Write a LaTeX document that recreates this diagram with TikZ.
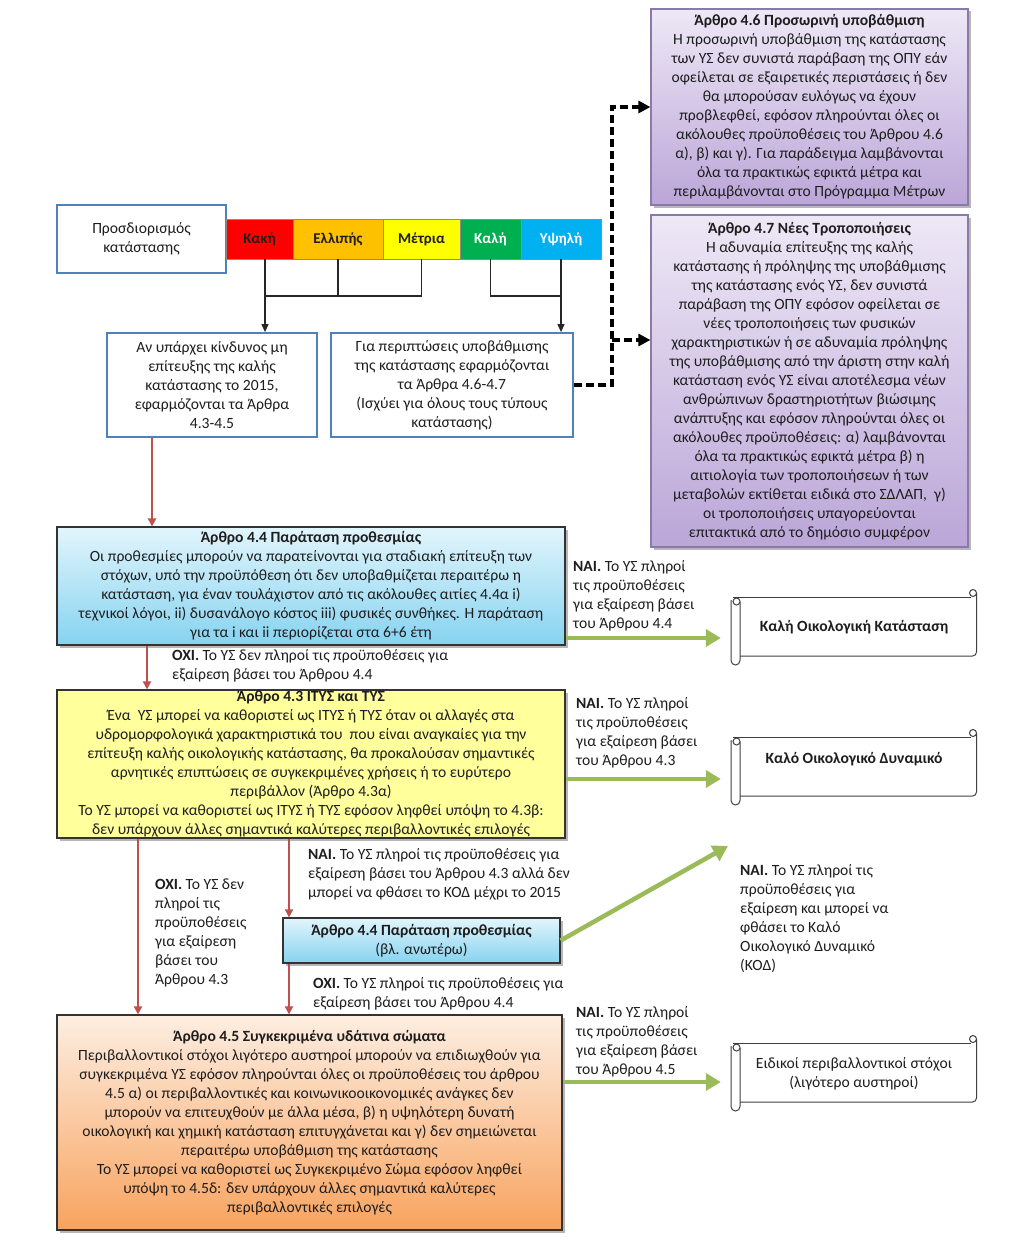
\documentclass[tikz,border=0pt]{standalone}
\usepackage{fontspec}
\setmainfont{Carlito}
\usetikzlibrary{arrows.meta,shadows,calc}
\definecolor{txt}{HTML}{1E1E1E}
\definecolor{purT}{HTML}{EEE8F6}
\definecolor{purB}{HTML}{BBA6D8}
\definecolor{purD}{HTML}{8A7AA8}
\definecolor{bluT}{HTML}{E2F5FC}
\definecolor{bluB}{HTML}{86D3F0}
\definecolor{yel}{HTML}{FFFF9C}
\definecolor{orT}{HTML}{FDEEE2}
\definecolor{orB}{HTML}{F8A35E}
\definecolor{bdr}{HTML}{4F81BD}
\definecolor{redA}{HTML}{C0504D}
\definecolor{grnA}{HTML}{9BBB59}
\definecolor{cRed}{HTML}{FF0000}
\definecolor{cOr}{HTML}{FFC000}
\definecolor{cYe}{HTML}{FFFF00}
\definecolor{cGr}{HTML}{00B050}
\definecolor{cCy}{HTML}{00B0F0}
\newcommand\myscroll[1]{%
  \begin{scope}[shift={(0,#1)}, line width=1pt, draw=black!75]
    \draw (733,0) -- (971,0);
    \draw (973,-4) circle[radius=3.5pt];
    \draw[rounded corners=4pt] (976.5,-4) -- (976.5,59) -- (740,59);
    \draw (736.5,4.5) circle[radius=3.5pt];
    \draw[rounded corners=4.5pt] (731,3) -- (731,68) -- (740,68) -- (740,5);
  \end{scope}}
\begin{document}
\begin{tikzpicture}[x=1pt,y=-1pt,
  every node/.style={font=\fontsize{15.6}{19}\selectfont, text=txt, inner sep=0pt},
  box/.style={draw, align=center, line width=1.2pt},
  shad/.style={drop shadow={shadow xshift=2.5pt,shadow yshift=-2.5pt,opacity=0.4,fill=black!70}},
  purbox/.style={box, shad, draw=purD, top color=purT, bottom color=purB, minimum width=317pt},
  blubox/.style={box, shad, draw=black!80, top color=bluT, bottom color=bluB},
  bluebord/.style={box, draw=bdr, line width=1.8pt, fill=white},
  cell/.style={draw=black!45, line width=0.8pt, minimum height=40pt, font=\fontsize{15}{17}\selectfont\bfseries},
  scrolltxt/.style={minimum width=246pt, minimum height=59pt, align=center},
  tline/.style={line width=1.1pt, draw=black!85},
  tarrow/.style={tline, -{Triangle[length=8pt,width=7pt]}},
  dline/.style={line width=3.5pt, dash pattern=on 8pt off 4pt, -{Triangle[length=12pt,width=12pt]}},
  rarrow/.style={line width=2pt, draw=redA, -{Triangle[length=8pt,width=8pt]}},
  garrow/.style={line width=4.5pt, draw=grnA, -{Triangle[length=15pt,width=17pt]}},
  lbl/.style={align=left, anchor=north west}
]
\fill[white] (0,0) rectangle (1024,1252);
\useasboundingbox (0,0) rectangle (1024,1252);

% top right purple boxes
\node[purbox, minimum height=196pt] (b46) at (809.5,107) {\textbf{Άρθρο 4.6 Προσωρινή υποβάθμιση}\\
Η προσωρινή υποβάθμιση της κατάστασης\\
των ΥΣ δεν συνιστά παράβαση της ΟΠΥ εάν\\
οφείλεται σε εξαιρετικές περιστάσεις ή δεν\\
θα μπορούσαν ευλόγως να έχουν\\
προβλεφθεί, εφόσον πληρούνται όλες οι\\
ακόλουθες προϋποθέσεις του Άρθρου 4.6\\
α), β) και γ). Για παράδειγμα λαμβάνονται\\
όλα τα πρακτικώς εφικτά μέτρα και\\
περιλαμβάνονται στο Πρόγραμμα Μέτρων};

\node[purbox, minimum height=332pt] (b47) at (809.5,381) {\textbf{Άρθρο 4.7 Νέες Τροποποιήσεις}\\
Η αδυναμία επίτευξης της καλής\\
κατάστασης ή πρόληψης της υποβάθμισης\\
της κατάστασης ενός ΥΣ, δεν συνιστά\\
παράβαση της ΟΠΥ εφόσον οφείλεται σε\\
νέες τροποποιήσεις των φυσικών\\
χαρακτηριστικών ή σε αδυναμία πρόληψης\\
της υποβάθμισης από την άριστη στην καλή\\
κατάσταση ενός ΥΣ είναι αποτέλεσμα νέων\\
ανθρώπινων δραστηριοτήτων βιώσιμης\\
ανάπτυξης και εφόσον πληρούνται όλες οι\\
ακόλουθες προϋποθέσεις: α) λαμβάνονται\\
όλα τα πρακτικώς εφικτά μέτρα β) η\\
αιτιολογία των τροποποιήσεων ή των\\
μεταβολών εκτίθεται ειδικά στο ΣΔΛΑΠ,~~γ)\\
οι τροποποιήσεις υπαγορεύονται\\
επιτακτικά από το δημόσιο συμφέρον};

% status determination
\node[bluebord, minimum width=169pt, minimum height=68pt] (bP) at (141.5,239) {Προσδιορισμός\\κατάστασης};
\node[cell, fill=cRed, minimum width=67pt] (c1) at (259.5,239) {Κακή};
\node[cell, fill=cOr, minimum width=90pt] (c2) at (338,239) {Ελλιπής};
\node[cell, fill=cYe, minimum width=77pt] (c3) at (421.5,239) {Μέτρια};
\node[cell, fill=cGr, minimum width=61pt, text=white] (c4) at (490.5,239) {Καλή};
\node[cell, fill=cCy, minimum width=80pt, text=white] (c5) at (561,239) {Υψηλή};

\node[bluebord, minimum width=210pt, minimum height=104pt] (bA) at (212,385) {Αν υπάρχει κίνδυνος μη\\επίτευξης της καλής\\κατάστασης το 2015,\\εφαρμόζονται τα Άρθρα\\4.3-4.5};
\node[bluebord, minimum width=242pt, minimum height=104pt] (bB) at (452,385) {Για περιπτώσεις υποβάθμισης\\της κατάστασης εφαρμόζονται\\τα Άρθρα 4.6-4.7\\(Ισχύει για όλους τους τύπους\\κατάστασης)};

% tree connectors
\coordinate (j1) at (265,296);
\coordinate (j2) at (561,296);
\draw[tline] (c1.south -| j1) -- (j1);
\draw[tline] (c2.south) |- (j1);
\draw[tline] (c3.south) |- (j1);
\draw[tarrow] (j1) -- (bA.north -| j1);
\draw[tline] (c4.south) |- (j2);
\draw[tarrow] (c5.south) -- (bB.north -| c5.south);

% dashed connectors
\coordinate (dk) at (612,385);
\draw[dline] (bB.east) -- (dk) |- (b46.west);
\draw[dline] (dk |- 0,340) -- (b47.west |- 0,340);

% main column
\node[blubox, minimum width=508pt, minimum height=118pt] (b44) at (311,586) {\textbf{Άρθρο 4.4 Παράταση προθεσμίας}\\
Οι προθεσμίες μπορούν να παρατείνονται για σταδιακή επίτευξη των\\
στόχων, υπό την προϋπόθεση ότι δεν υποβαθμίζεται περαιτέρω η\\
κατάσταση, για έναν τουλάχιστον από τις ακόλουθες αιτίες 4.4α i)\\
τεχνικοί λόγοι, ii) δυσανάλογο κόστος iii) φυσικές συνθήκες. Η παράταση\\
για τα i και ii περιορίζεται στα 6+6 έτη};

\node[box, shad, draw=black!80, fill=yel, minimum width=508pt, minimum height=148pt] (b43) at (311,764) {\textbf{Άρθρο 4.3 ΙΤΥΣ και ΤΥΣ}\\
Ένα~~ΥΣ μπορεί να καθοριστεί ως ΙΤΥΣ ή ΤΥΣ όταν οι αλλαγές στα\\
υδρομορφολογικά χαρακτηριστικά του~~που είναι αναγκαίες για την\\
επίτευξη καλής οικολογικής κατάστασης, θα προκαλούσαν σημαντικές\\
αρνητικές επιπτώσεις σε συγκεκριμένες χρήσεις ή το ευρύτερο\\
περιβάλλον (Άρθρο 4.3α)\\
Το ΥΣ μπορεί να καθοριστεί ως ΙΤΥΣ ή ΤΥΣ εφόσον ληφθεί υπόψη το 4.3β:\\
δεν υπάρχουν άλλες σημαντικά καλύτερες περιβαλλοντικές επιλογές};

\node[blubox, minimum width=277pt, minimum height=45pt] (bs) at (421.5,940.5) {\textbf{Άρθρο 4.4 Παράταση προθεσμίας}\\(βλ. ανωτέρω)};

\node[box, shad, draw=black!80, top color=orT, bottom color=orB, minimum width=505pt, minimum height=215pt] (b45) at (309.5,1122.5) {\textbf{Άρθρο 4.5 Συγκεκριμένα υδάτινα σώματα}\\
Περιβαλλοντικοί στόχοι λιγότερο αυστηροί μπορούν να επιδιωχθούν για\\
συγκεκριμένα ΥΣ εφόσον πληρούνται όλες οι προϋποθέσεις του άρθρου\\
4.5 α) οι περιβαλλοντικές και κοινωνικοοικονομικές ανάγκες δεν\\
μπορούν να επιτευχθούν με άλλα μέσα, β) η υψηλότερη δυνατή\\
οικολογική και χημική κατάσταση επιτυγχάνεται και γ) δεν σημειώνεται\\
περαιτέρω υποβάθμιση της κατάστασης\\
Το ΥΣ μπορεί να καθοριστεί ως Συγκεκριμένο Σώμα εφόσον ληφθεί\\
υπόψη το 4.5δ: δεν υπάρχουν άλλες σημαντικά καλύτερες\\
περιβαλλοντικές επιλογές};

% scrolls
\myscroll{597}
\myscroll{737}
\myscroll{1043}
\node[scrolltxt, font=\fontsize{15.6}{19}\selectfont\bfseries] (sc1) at (854,627) {Καλή Οικολογική Κατάσταση};
\node[scrolltxt, font=\fontsize{15.6}{19}\selectfont\bfseries] (sc2) at (854,759) {Καλό Οικολογικό Δυναμικό};
\node[scrolltxt] (sc3) at (854,1074) {Ειδικοί περιβαλλοντικοί στόχοι\\(λιγότερο αυστηροί)};

% red arrows
\draw[rarrow] (bA.south -| 152,0) -- (b44.north -| 152,0);
\draw[rarrow] (b44.south -| 147,0) -- (b43.north -| 147,0);
\draw[rarrow] (b43.south -| 138,0) -- (b45.north -| 138,0);
\draw[rarrow] (b43.south -| 289,0) -- (bs.north -| 289,0);
\draw[rarrow] (bs.south -| 289,0) -- (b45.north -| 289,0);

% green arrows
\coordinate (gtip) at (728,846);
\draw[garrow, shorten >=10pt] (b44.east |- 0,638) -- (sc1.west |- 0,638);
\draw[garrow, shorten >=10pt] (b43.east |- 0,779) -- (sc2.west |- 0,779);
\draw[garrow, shorten >=10pt] (b45.east |- 0,1082) -- (sc3.west |- 0,1082);
\draw[garrow] (bs.east) -- (gtip);

% labels
\node[lbl] (l1) at (172,649) {\textbf{ΟΧΙ.} Το ΥΣ δεν πληροί τις προϋποθέσεις για\\εξαίρεση βάσει του Άρθρου 4.4};
\node[lbl] (l2) at (573,560) {\textbf{ΝΑΙ.} Το ΥΣ πληροί\\τις προϋποθέσεις\\για εξαίρεση βάσει\\του Άρθρου 4.4};
\node[lbl] (l3) at (576,697) {\textbf{ΝΑΙ.} Το ΥΣ πληροί\\τις προϋποθέσεις\\για εξαίρεση βάσει\\του Άρθρου 4.3};
\node[lbl] (l4) at (155,879) {\textbf{ΟΧΙ.} Το ΥΣ δεν\\πληροί τις\\προϋποθέσεις\\για εξαίρεση\\βάσει του\\Άρθρου 4.3};
\node[lbl] (l5) at (308,848) {\textbf{ΝΑΙ.} Το ΥΣ πληροί τις προϋποθέσεις για\\εξαίρεση βάσει του Άρθρου 4.3 αλλά δεν\\μπορεί να φθάσει το ΚΟΔ μέχρι το 2015};
\node[lbl] (l6) at (313,977) {\textbf{ΟΧΙ.} Το ΥΣ πληροί τις προϋποθέσεις για\\εξαίρεση βάσει του Άρθρου 4.4};
\node[lbl] (l7) at (740,864) {\textbf{ΝΑΙ.} Το ΥΣ πληροί τις\\προϋποθέσεις για\\εξαίρεση και μπορεί να\\φθάσει το Καλό\\Οικολογικό Δυναμικό\\(ΚΟΔ)};
\node[lbl] (l8) at (576,1006) {\textbf{ΝΑΙ.} Το ΥΣ πληροί\\τις προϋποθέσεις\\για εξαίρεση βάσει\\του Άρθρου 4.5};
\end{tikzpicture}
\end{document}
